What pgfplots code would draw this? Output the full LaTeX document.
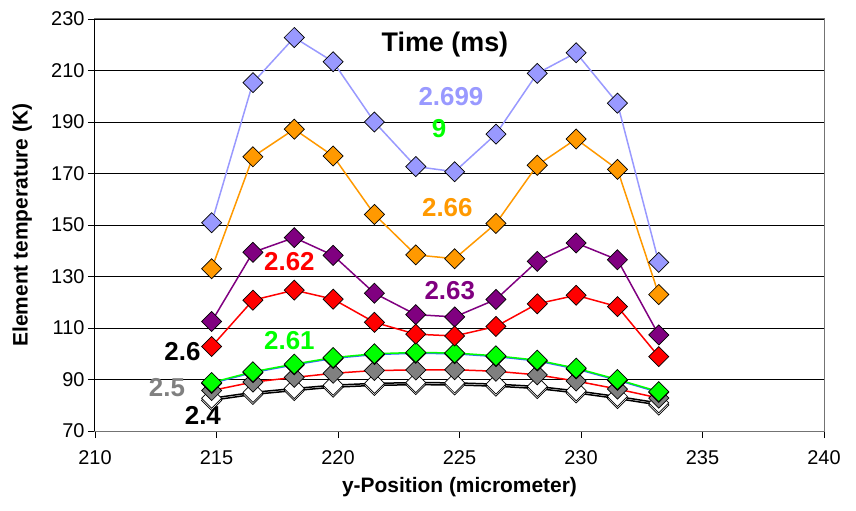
\documentclass[border=0pt]{standalone}
\usepackage{fontspec}
\setmainfont{Liberation Sans}
\usepackage{pgfplots}
\pgfplotsset{compat=1.18}
\definecolor{lblue}{HTML}{9999FF}
\definecolor{orng}{HTML}{FF9900}
\definecolor{purp}{HTML}{800080}
\definecolor{grn}{HTML}{00FF00}
\definecolor{blu}{HTML}{3366FF}
\definecolor{gry}{HTML}{808080}
\pgfplotsset{dm/.style={mark=square*, mark size=7.1bp, mark options={rotate=45, draw=black, line width=0.7bp, solid, fill=#1}}}
\begin{document}
\begin{tikzpicture}
\begin{axis}[
  scale only axis, width=729bp, height=412bp,
  xmin=210, xmax=240, ymin=70, ymax=230,
  xtick={210,215,...,240}, ytick={70,90,...,230},
  ymajorgrids, grid style={black, line width=0.8bp},
  axis line style={draw=black!55, line width=1bp},
  tick pos=left, tick align=outside, major tick length=7bp,
  tick style={black, line width=0.8bp},
  ticklabel style={font=\fontsize{20}{20}\selectfont},
  xticklabel style={yshift=-9bp},
  /pgf/number format/assume math mode=true,
  xlabel={y-Position (micrometer)}, ylabel={Element temperature (K)},
  label style={font=\bfseries\fontsize{21}{23}\selectfont},
  xlabel style={at={(axis description cs:0.5,-0.136)}, anchor=center},
  ylabel style={at={(axis description cs:-0.100,0.5)}, anchor=center},
  every axis plot/.append style={line width=1.5bp},
  clip=false,
]
% hidden lower white series
\addplot[black, dm=white] coordinates {
(214.8,81.9)(216.5,84.2)(218.2,85.7)(219.8,87.0)(221.5,87.7)(223.2,88.0)(224.8,87.9)(226.5,87.4)(228.2,86.5)(229.8,84.8)(231.5,82.6)(233.2,80.1)};
% 2.4
\addplot[black, dm=white] coordinates {
(214.8,82.7)(216.5,85.0)(218.2,86.5)(219.8,87.8)(221.5,88.5)(223.2,88.8)(224.8,88.7)(226.5,88.2)(228.2,87.3)(229.8,85.6)(231.5,83.4)(233.2,80.9)};
% 2.5
\addplot[red, dm=gry] coordinates {
(214.8,85.7)(216.5,89.0)(218.2,90.8)(219.8,92.4)(221.5,93.5)(223.2,93.7)(224.8,93.8)(226.5,93.2)(228.2,91.8)(229.8,89.4)(231.5,86.3)(233.2,82.8)};
% 2.6
\addplot[blu, dm=black] coordinates {
(214.8,88.5)(216.5,92.7)(218.2,95.7)(219.8,98.2)(221.5,99.7)(223.2,100.2)(224.8,100.0)(226.5,98.9)(228.2,97.2)(229.8,94.1)(231.5,89.7)(233.2,85.0)};
% 2.61
\addplot[grn, dm=grn] coordinates {
(214.8,88.8)(216.5,93.0)(218.2,96.0)(219.8,98.5)(221.5,100.0)(223.2,100.5)(224.8,100.3)(226.5,99.2)(228.2,97.5)(229.8,94.4)(231.5,90.0)(233.2,85.3)};
% 2.63
\addplot[purp, dm=purp] coordinates {
(214.8,112.5)(216.5,139.4)(218.2,145.1)(219.8,138.2)(221.5,123.5)(223.2,115.2)(224.8,114.3)(226.5,121.1)(228.2,135.9)(229.8,143.0)(231.5,136.5)(233.2,107.3)};
% 2.62
\addplot[red, dm=red] coordinates {
(214.8,102.8)(216.5,120.8)(218.2,124.7)(219.8,121.2)(221.5,112.2)(223.2,107.6)(224.8,106.9)(226.5,110.6)(228.2,119.4)(229.8,122.7)(231.5,118.3)(233.2,98.9)};
% 2.66
\addplot[orng, dm=orng] coordinates {
(214.8,133.0)(216.5,176.5)(218.2,187.2)(219.8,176.8)(221.5,154.1)(223.2,138.4)(224.8,136.9)(226.5,150.6)(228.2,173.2)(229.8,183.4)(231.5,171.6)(233.2,123.0)};
% 2.699
\addplot[lblue, dm=lblue] coordinates {
(214.8,150.9)(216.5,205.3)(218.2,222.8)(219.8,213.4)(221.5,190.0)(223.2,172.7)(224.8,170.7)(226.5,185.3)(228.2,208.9)(229.8,216.9)(231.5,197.3)(233.2,135.5)};

\begin{scope}[every node/.style={font=\bfseries\fontsize{26}{26}\selectfont, inner sep=0pt, anchor=center}]
\node[font=\bfseries\fontsize{27}{27}\selectfont] at (axis cs:224.4,220.0) {Time (ms)};
\node[lblue] at (axis cs:224.65,199.7) {2.699};
\node[grn] at (axis cs:224.16,187.3) {9};
\node[orng] at (axis cs:224.5,156.6) {2.66};
\node[red] at (axis cs:218.0,135.6) {2.62};
\node[purp] at (axis cs:224.6,124.4) {2.63};
\node[grn] at (axis cs:218.0,105.3) {2.61};
\node[black] at (axis cs:213.6,100.7) {2.6};
\node[gry] at (axis cs:212.96,86.7) {2.5};
\node[black] at (axis cs:214.44,76.2) {2.4};
\end{scope}
\draw[black, line width=1bp] (rel axis cs:0,0) -- (rel axis cs:0,1);
\end{axis}
\pgfresetboundingbox
\path (-95bp,-80bp) rectangle (761bp,431bp);
\end{tikzpicture}
\end{document}
